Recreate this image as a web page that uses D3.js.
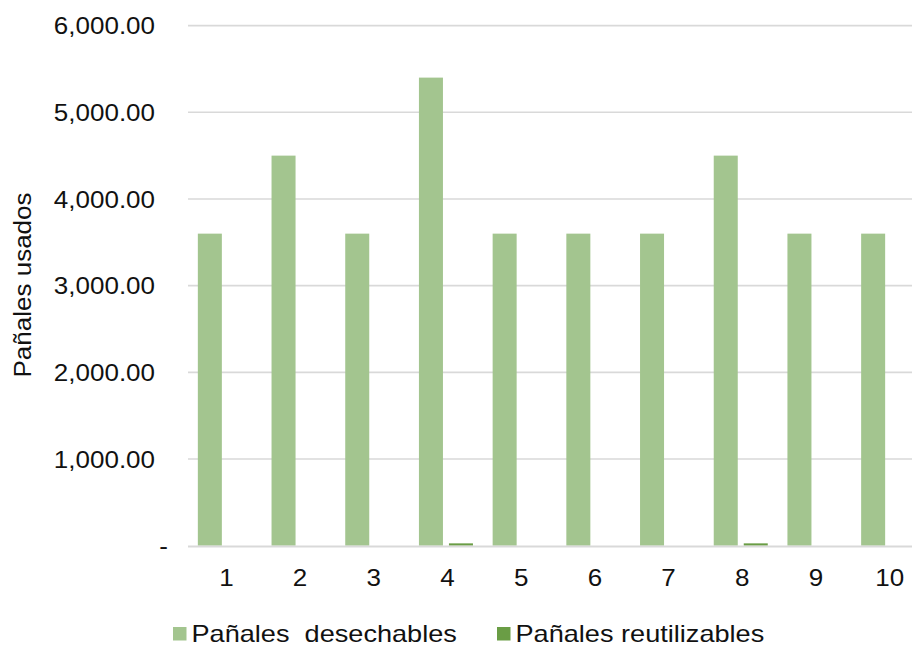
<!DOCTYPE html>
<html>
<head>
<meta charset="utf-8">
<script src="https://cdn.jsdelivr.net/npm/d3@7"></script>
<style>
  body { margin: 0; background: #fff; }
  text { font-family: "Liberation Sans", Arial, sans-serif; fill: #111; white-space: pre; }
</style>
</head>
<body>
<script>
// Datos
const categorias = ['1', '2', '3', '4', '5', '6', '7', '8', '9', '10'];
const desechables = [3600, 4500, 3600, 5400, 3600, 3600, 3600, 4500, 3600, 3600];
const reutilizables = [0, 0, 0, 27, 0, 0, 0, 27, 0, 0];
const series = ['Pañales  desechables', 'Pañales reutilizables'];
const colores = ['#a3c58f', '#6a9d45'];
const yTicks = [0, 1000, 2000, 3000, 4000, 5000, 6000];
const yTitulo = 'Pañales usados';

const width = 912, height = 645;
const margin = { top: 25.6, right: -13, bottom: 99.3, left: 188 };

const svg = d3.select('body')
  .append('svg')
  .attr('width', width)
  .attr('height', height);

const x0 = d3.scaleBand()
  .domain(categorias)
  .range([margin.left, width - margin.right])
  .paddingInner(0.267)
  .paddingOuter(0.1335);

const x1 = d3.scaleBand()
  .domain(series)
  .range([0, x0.bandwidth()])
  .paddingInner(0.2);

const y = d3.scaleLinear()
  .domain([0, 6000])
  .range([height - margin.bottom, margin.top]);

// líneas de cuadrícula
svg.append('g')
  .selectAll('line')
  .data(yTicks.filter(d => d > 0))
  .enter()
  .append('line')
  .attr('x1', margin.left)
  .attr('x2', width - margin.right)
  .attr('y1', d => y(d))
  .attr('y2', d => y(d))
  .attr('stroke', '#d9d9d9')
  .attr('stroke-width', 1.6);

// barras
const filas = categorias.map((c, i) => ({ cat: c, valores: [desechables[i], reutilizables[i]] }));

svg.append('g')
  .selectAll('g')
  .data(filas)
  .enter()
  .append('g')
  .attr('transform', d => `translate(${x0(d.cat)},0)`)
  .selectAll('rect')
  .data(d => d.valores.map((v, j) => ({ serie: series[j], valor: v, j: j })))
  .enter()
  .append('rect')
  .attr('x', d => x1(d.serie))
  .attr('width', x1.bandwidth())
  .attr('y', d => y(d.valor))
  .attr('height', d => y(0) - y(d.valor))
  .attr('fill', d => colores[d.j]);

// eje inferior
svg.append('line')
  .attr('x1', margin.left)
  .attr('x2', width - margin.right)
  .attr('y1', y(0) + 0.8)
  .attr('y2', y(0) + 0.8)
  .attr('stroke', '#d9d9d9')
  .attr('stroke-width', 1.8);

const fmt = d3.format(',.2f');

const yAxis = d3.axisLeft(y)
  .tickValues(yTicks)
  .tickSize(0)
  .tickPadding(33)
  .tickFormat(d => d === 0 ? '-' : fmt(d));

const gy = svg.append('g')
  .attr('transform', `translate(${margin.left},0)`)
  .call(yAxis);
gy.select('.domain').remove();
gy.selectAll('text')
  .attr('font-size', 23)
  .attr('font-family', null)
  .attr('dy', '0.36em')
  .filter(d => d === 0)
  .attr('dx', 13);

const xAxis = d3.axisBottom(x0).tickSize(0).tickPadding(0);
const gx = svg.append('g')
  .attr('transform', `translate(0,${y(0)})`)
  .call(xAxis);
gx.select('.domain').remove();
gx.selectAll('text')
  .attr('font-size', 23)
  .attr('font-family', null)
  .attr('dy', null)
  .attr('x', 1.5)
  .attr('y', 40.3);

// título eje y
svg.append('text')
  .text(yTitulo)
  .attr('font-size', 23)
  .attr('text-anchor', 'middle')
  .attr('transform', `translate(31,285) rotate(-90)`);

// leyenda
const legendX = [173, 497];
const leg = svg.append('g')
  .selectAll('g')
  .data(series)
  .enter()
  .append('g')
  .attr('transform', (d, i) => `translate(${legendX[i]},627)`);

leg.append('rect')
  .attr('width', 13.5)
  .attr('height', 13.5)
  .attr('fill', (d, i) => colores[i]);

leg.append('text')
  .text(d => d)
  .attr('x', 18.5)
  .attr('y', 14.5)
  .attr('font-size', 24);

// fuente más ancha, como en el original
svg.selectAll('text').each(function () {
  const len = this.getComputedTextLength();
  d3.select(this)
    .attr('textLength', len * 1.13)
    .attr('lengthAdjust', 'spacingAndGlyphs');
});
</script>
</body>
</html>
